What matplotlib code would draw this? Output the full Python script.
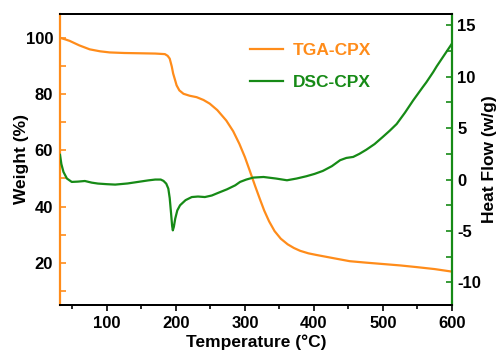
import matplotlib.pyplot as plt

plt.rcParams['font.family'] = ['Liberation Sans', 'DejaVu Sans']
plt.rcParams['font.weight'] = 'bold'
plt.rcParams['axes.unicode_minus'] = False

# TGA curve (weight %)
tga_t = [32, 40, 46, 60, 75, 90, 104, 125, 148, 170, 184, 188, 191, 194, 196, 199, 201, 205, 211,
         220, 230, 240, 249, 260, 273, 283, 292, 300, 307, 315, 322, 328, 335, 343, 352, 362, 371,
         380, 392, 404, 430, 452, 475, 500, 525, 549, 575, 600]
tga_w = [100, 99.4, 98.9, 97.3, 95.9, 95.2, 94.8, 94.6, 94.5, 94.4, 94.2, 93.6, 92.6, 89.8, 87.3,
         84.8, 83.1, 81.3, 80.1, 79.4, 78.9, 77.9, 76.6, 74.3, 70.6, 66.8, 62.3, 57.6, 52.8, 47.2,
         42.5, 38.6, 34.8, 31.3, 28.6, 26.6, 25.3, 24.3, 23.4, 22.8, 21.6, 20.6, 20.1, 19.6, 19.1,
         18.5, 17.8, 16.9]

# DSC curve (heat flow w/g)
dsc_t = [32, 34, 37, 42, 49, 58, 68, 78, 87, 100, 112, 130, 145, 160, 170, 178, 182, 186, 189,
         191, 193, 194.5, 195.5, 197, 199, 202, 206, 214, 223, 232, 242, 252, 261, 274, 286,
         293, 302, 312, 327, 345, 361, 375, 389, 401, 413, 426, 438, 447, 457, 466, 476,
         488, 500, 510, 520, 532, 544, 551, 558, 563, 568, 573, 578, 584, 590, 595, 600]
dsc_h = [2.4, 1.5, 0.74, 0.1, -0.23, -0.2, -0.14, -0.3, -0.39, -0.45, -0.49, -0.38, -0.23, -0.08,
         0.0, 0.0, -0.13, -0.4, -0.88, -1.8, -3.3, -4.5, -4.94, -4.6, -3.8, -3.0, -2.5, -2.0,
         -1.7, -1.65, -1.7, -1.55, -1.3, -0.95, -0.56, -0.23, 0.0, 0.19, 0.25, 0.1, -0.07, 0.1,
         0.32, 0.55, 0.84, 1.3, 1.88, 2.1, 2.2, 2.5, 2.9, 3.45, 4.15, 4.75, 5.4, 6.5, 7.7, 8.35,
         9.0, 9.45, 9.95, 10.45, 11.0, 11.6, 12.2, 12.7, 13.2]

orange = '#FF8C1A'
green = '#168A16'

fig = plt.figure(figsize=(4.96, 3.56), dpi=100)
ax = fig.add_axes([0.121, 0.143, 0.79, 0.818])
ax2 = ax.twinx()

l1, = ax.plot(tga_t, tga_w, color=orange, lw=1.6, label='TGA-CPX')
l2, = ax2.plot(dsc_t, dsc_h, color=green, lw=1.6, label='DSC-CPX')

ax.set_xlim(32, 600)
ax.set_ylim(5, 108.5)
ax2.set_ylim(-12.2, 16.1)

ax.set_xticks([100, 200, 300, 400, 500, 600])
ax.set_xticks([50, 150, 250, 350, 450, 550], minor=True)
ax.set_yticks([20, 40, 60, 80, 100])
ax.set_yticks([10, 30, 50, 70, 90], minor=True)
ax2.set_yticks([-10, -5, 0, 5, 10, 15])
ax2.set_yticks([-7.5, -2.5, 2.5, 7.5, 12.5], minor=True)

ax.tick_params(axis='x', direction='out', length=4, width=1.2, labelsize=12)
ax.tick_params(axis='x', which='minor', direction='out', length=3, width=1.2)
ax.tick_params(axis='y', which='both', direction='in', length=4, width=1.2, color=orange,
               labelsize=12, pad=5)
ax2.tick_params(axis='y', which='both', direction='in', length=4, width=1.2, color=green,
                labelsize=12, pad=4)

ax.spines['left'].set_color(orange)
ax.spines['left'].set_linewidth(1.6)
ax2.spines['left'].set_visible(False)
ax2.spines['right'].set_color(green)
ax2.spines['right'].set_linewidth(1.6)
for a in (ax, ax2):
    a.spines['top'].set_linewidth(1.4)
    a.spines['bottom'].set_linewidth(1.4)
ax.spines['right'].set_visible(False)

ax.set_xlabel('Temperature (°C)', fontsize=12.5, fontweight='bold', labelpad=3)
ax.set_ylabel('Weight (%)', fontsize=12.5, fontweight='bold')
ax.yaxis.set_label_coords(-0.08, 0.5)
ax2.set_ylabel('Heat Flow (w/g)', fontsize=12.5, fontweight='bold')
ax2.yaxis.set_label_coords(1.078, 0.5)

leg = ax2.legend(handles=[l1, l2], loc='upper left', bbox_to_anchor=(0.485, 0.90),
                 frameon=False, fontsize=12.5, labelcolor='linecolor',
                 handlelength=1.9, handletextpad=0.55, labelspacing=0.95,
                 borderaxespad=0, borderpad=0)
for t in leg.get_texts():
    t.set_fontweight('bold')

fig.savefig('out.png', dpi=100)
